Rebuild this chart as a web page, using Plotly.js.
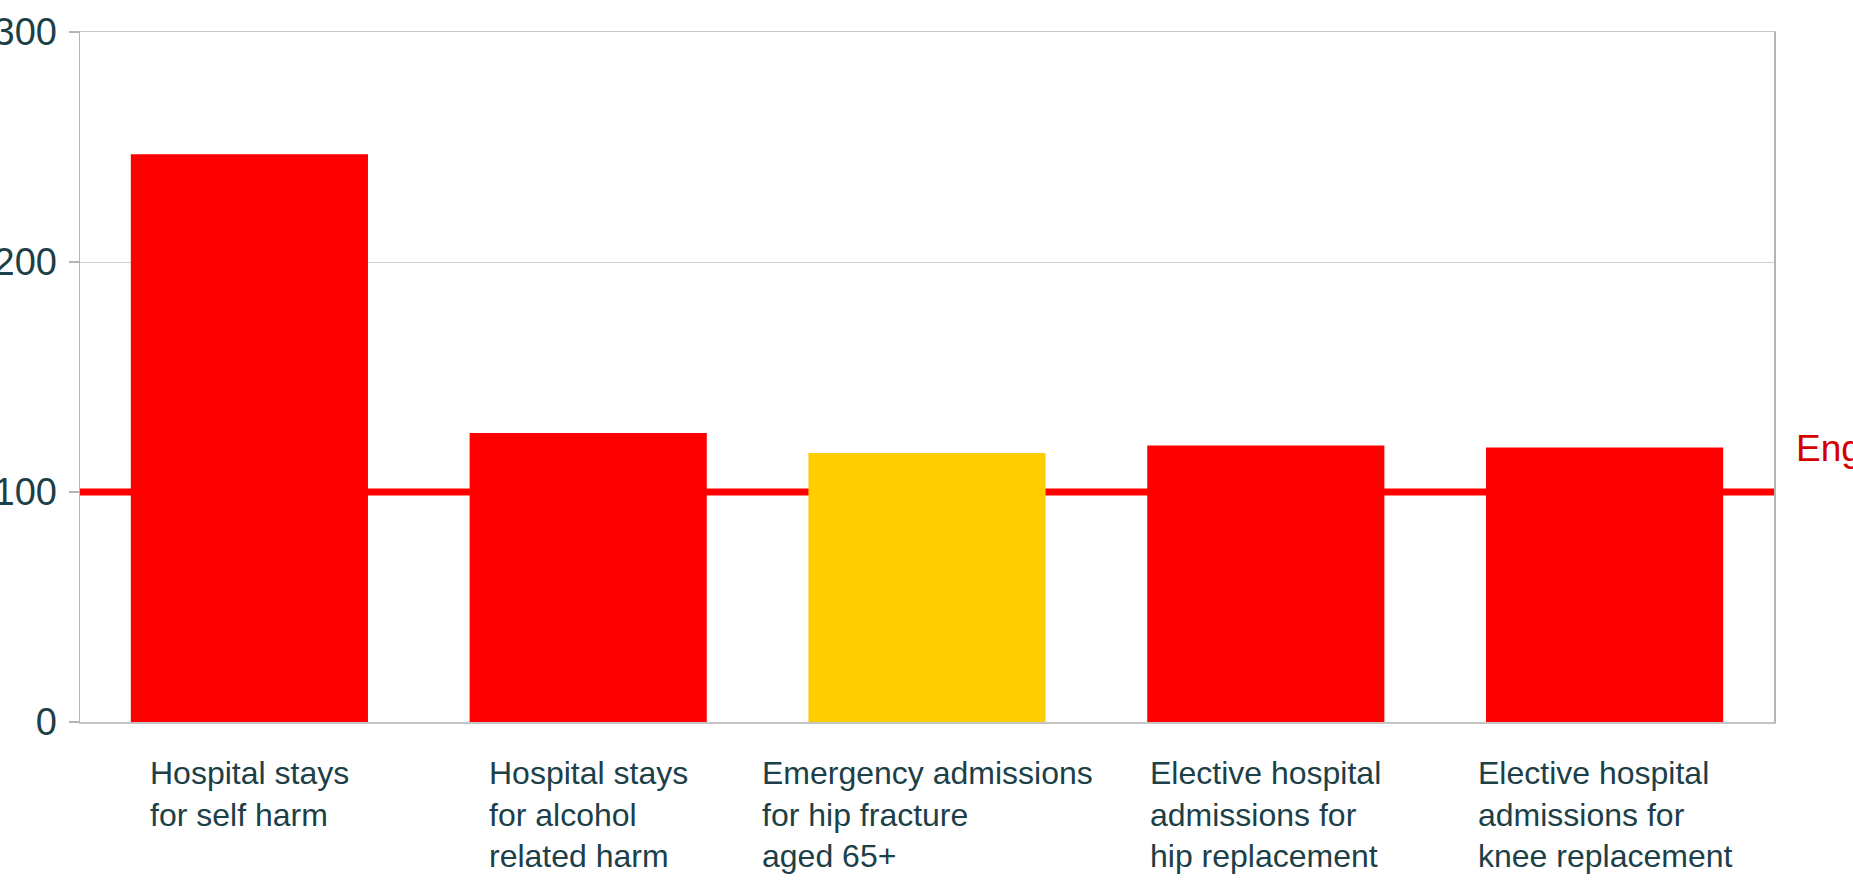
<!DOCTYPE html>
<html>
<head>
<meta charset="utf-8">
<script src="https://cdn.plot.ly/plotly-3.0.1.min.js"></script>
<style>html,body{margin:0;padding:0;background:#fff;overflow:hidden}#chart{width:1853px;height:888px}</style>
</head>
<body>
<div id="chart"></div>
<script>
const categories = [
  "Hospital stays<br>for self harm",
  "Hospital stays<br>for alcohol<br>related harm",
  "Emergency admissions<br>for hip fracture<br>aged 65+",
  "Elective hospital<br>admissions for<br>hip replacement",
  "Elective hospital<br>admissions for<br>knee replacement"
];
const values = [246.8, 125.6, 117.0, 120.2, 119.3];
const barColors = ["#ff0000", "#ff0000", "#ffcc00", "#ff0000", "#ff0000"];
const englandValue = 100;
const englandLabel = "England";
const yTicks = [0, 100, 200, 300];
const yGridLines = [200];

const FONT = "'Liberation Sans', Arial, sans-serif";
const TEXT = "#1c3f48";

const trace = {
  type: "bar",
  x: categories,
  y: values,
  marker: {color: barColors, line: {width: 0}},
  hoverinfo: "skip"
};

const annotations = categories.map(c => ({
  x: c, xref: "x", y: -0.045, yref: "paper",
  xanchor: "center", yanchor: "top", align: "left",
  text: c, showarrow: false,
  font: {family: FONT, size: 32, color: TEXT}
}));
annotations.push({
  x: 1, xref: "paper", xshift: 20, y: englandValue, yref: "y", yshift: 44,
  xanchor: "left", yanchor: "middle", text: englandLabel, showarrow: false,
  font: {family: FONT, size: 37, color: "#d40000"}
});

const layout = {
  width: 1853, height: 888,
  margin: {l: 80, r: 79, t: 32, b: 166, pad: 0},
  paper_bgcolor: "#ffffff", plot_bgcolor: "#ffffff",
  showlegend: false,
  bargap: 0.3,
  font: {family: FONT, color: TEXT},
  xaxis: {
    type: "category", showticklabels: false, ticks: "",
    showgrid: false, showline: true, linecolor: "#c4c4c4", linewidth: 1.5,
    mirror: true, zeroline: false
  },
  yaxis: {
    range: [0, 300], tickvals: yTicks, ticktext: yTicks.map(String),
    ticks: "outside", ticklen: 10, tickcolor: "#b4b4b4", tickwidth: 1.5,
    ticklabelstandoff: 4,
    showgrid: false,
    minor: {tickvals: yGridLines, showgrid: true, gridcolor: "#cfcfcf", gridwidth: 1, ticks: ""},
    showline: true, linecolor: "#b4b4b4", linewidth: 1.5, mirror: true,
    zeroline: false,
    tickfont: {family: FONT, size: 38, color: TEXT}
  },
  shapes: [{
    type: "line", xref: "paper", x0: 0, x1: 1, yref: "y", y0: englandValue, y1: englandValue,
    line: {color: "#ff0000", width: 7}, layer: "between"
  }],
  annotations: annotations
};

Plotly.newPlot("chart", [trace], layout, {staticPlot: true, displayModeBar: false});
</script>
</body>
</html>
